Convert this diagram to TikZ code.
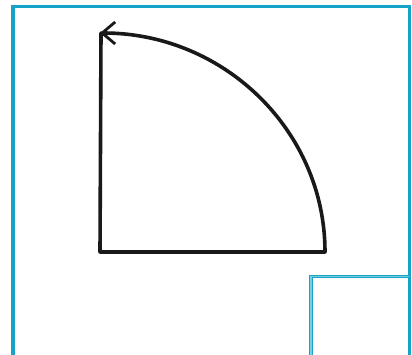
\documentclass[tikz,border=0pt]{standalone}
\usetikzlibrary{arrows.meta}
\definecolor{frame}{RGB}{22,163,200}
\definecolor{framelight}{RGB}{120,205,225}
\begin{document}
\begin{tikzpicture}[x=1pt,y=-1pt,
  sketch/.style={line width=3.6pt,line cap=round,line join=round,black!90},
  frameline/.style={draw=frame,line width=3.5pt},
  boxline/.style={draw=frame,double=framelight,double distance=1.2pt,line width=1pt}]
\useasboundingbox (0,0) rectangle (412,354);
\coordinate (top) at (101,33);
\coordinate (corner) at (100,252);
\coordinate (right) at (325,252);
\draw[frameline] (13,362) -- (13,6.5) -- (409.5,6.5) -- (409.5,362);
\draw[boxline] (311,362) -- (311,276.5) -- (409,276.5);
\draw[sketch,-{Straight Barb[length=13pt,width=22pt,line width=2.8pt]}]
  (top) -- (corner) -- (right) arc[start angle=0,end angle=-90,x radius=225,y radius=219];
\end{tikzpicture}
\end{document}
